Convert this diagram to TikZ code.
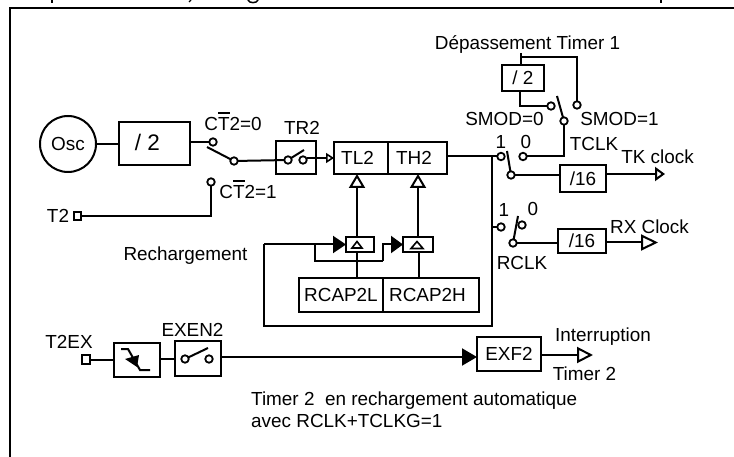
\documentclass[tikz,border=0pt]{standalone}
\usepackage{fontspec}
\setmainfont{Liberation Sans}
\usetikzlibrary{arrows.meta}
\newcommand\barT{\makebox[0pt][l]{\smash{\rule[17pt]{11.5pt}{1.8pt}}}T}
\tikzset{
  wire/.style={line width=2pt},
  openarrow/.style={wire,-{Triangle[open,length=#1,width=16pt,line width=2pt]}},
  smallopen/.style={wire,-{Triangle[open,length=8pt,width=10pt,line width=1.6pt]}},
  uparrow/.style={wire,-{Triangle[open,length=14pt,width=16pt,line width=2pt]}},
  blackarrow/.style={wire,-{Triangle[length=#1,width=17pt]}},
  txt/.style={font=\fontsize{18.9}{22}\selectfont},
  lbl/.style={txt,inner sep=0pt,text height=13.5pt,text depth=0pt},
  box/.style={lbl,draw,line width=2pt,rectangle,outer sep=0pt},
  contact/.style={draw,circle,line width=1.8pt,inner sep=0pt,minimum size=7.5pt,outer sep=0pt},
  pad/.style={draw,rectangle,line width=1.8pt,inner sep=0pt,minimum size=7.5pt,outer sep=0pt},
}
\begin{document}
\begin{tikzpicture}[x=1pt,y=-1pt]
\useasboundingbox (0,0) rectangle (734,457);
% frame
\draw[line width=2.4pt] (10,457) -- (10,8) -- (734,8);
% clipped line of text above the frame
\draw[line width=1.5pt] (52,0) -- (52,3);
\draw[line width=1.5pt] (661,0) -- (661,3);
\draw[line width=1.3pt] (191,0) -- (189,2);
\draw[line width=1.5pt] (248,0) .. controls (249,3.5) and (257,3.5) .. (258,0);

% oscillator and divider
\node[draw,circle,line width=2pt,lbl,minimum size=56pt] (osc) at (68,144) {Osc};
\node[box,minimum width=71pt,minimum height=43pt,font=\fontsize{22.5}{26}\selectfont] (div) at (154.5,144) {/ 2\hspace*{14pt}};
\draw[wire] (osc) -- (osc -| div.west);

% C/T switch
\node[contact] (ct0) at (213,142) {};
\node[contact] (ct1) at (211,182) {};
\node[contact] (ctc) at (234,161) {};
\coordinate (ctarm) at (207,147);
\draw[wire] (div.east |- ct0) -- (ct0);
\draw[wire] (ctarm) -- (ctc);
\node[lbl] (lct0) at (233,124) {C\barT2=0};
\node[lbl] (lct1) at (248,192) {C\barT2=1};
\node[lbl] (lt2) at (58,216) {T2};
\node[pad] (t2) at (77.5,216) {};
\coordinate (t2c) at (211,216);
\draw[wire] (t2) -- (t2c) -- (ct1);

% TR2
\node[box,minimum width=40pt,minimum height=33pt] (tr2) at (296,157.5) {};
\node[lbl] (ltr2) at (302,128) {TR2};
\node[contact] (tra) at (288,160) {};
\node[contact] (trb) at (303,160) {};
\coordinate (trarm) at (304,150);
\draw[wire] (ctc) -- (tra);
\draw[wire] (tra) -- (trarm);

% timer registers
\node[box,minimum width=54pt,minimum height=32pt] (tl2) at (361,158) {TL2\hspace*{7pt}};
\node[box,minimum width=59pt,minimum height=32pt] (th2) at (417.5,158) {TH2\hspace*{7pt}};
\draw[smallopen] (trb.east |- tl2.west) -- (tl2.west);

% reload gates
\node[box,minimum width=28pt,minimum height=15pt] (g1) at (360,244.5) {};
\node[box,minimum width=30pt,minimum height=15pt] (g2) at (418,244.5) {};
\draw[line width=1.6pt] (352,248) -- (362,248) -- (357,241.5) -- cycle;
\draw[line width=1.6pt] (411,248.5) -- (423,248.5) -- (417,241.5) -- cycle;
\node[box,minimum width=84pt,minimum height=34pt] (rl) at (341,295) {RCAP2L};
\node[box,minimum width=96pt,minimum height=34pt] (rh) at (431,295) {RCAP2H\hspace*{7pt}};
\coordinate (g1t) at (357,237);
\coordinate (g2t) at (418,237);
\coordinate (tl2b) at (357,174);
\coordinate (th2b) at (418,174);
\coordinate (g1b) at (357,252);
\coordinate (g2b) at (419,252);
\coordinate (rlt) at (357,278);
\coordinate (rht) at (419,278);
\draw[uparrow] (g1t) -- (tl2b);
\draw[uparrow] (g2t) -- (th2b);
\draw[wire] (g1b) -- (rlt);
\draw[wire] (g2b) -- (rht);
\node[lbl] (lrech) at (185.5,254) {Rechargement};

% reload line
\node[contact] (s1) at (501,156.5) {};
\coordinate (j) at (492,156.5);
\coordinate (rb) at (264,326);
\coordinate (rc) at (264,244.5);
\coordinate (l1) at (315,244.5);
\coordinate (l2) at (383,261);
\draw[wire] (th2.east |- s1) -- (s1);
\draw[wire] (j) |- (rb) -- (rc);
\draw[blackarrow=13pt] (rc) -- (g1.west);
\draw[wire] (l1) |- (l2);
\draw[blackarrow=12pt] (l2) |- (g2.west);

% Timer 1 overflow / SMOD
\node[lbl] (ldep) at (527.5,43) {Dépassement Timer 1};
\node[box,minimum width=42pt,minimum height=26pt] (d2) at (523,78) {/ 2};
\coordinate (dt) at (521,53);
\coordinate (dtb) at (521,65);
\coordinate (dj) at (521,57);
\coordinate (db) at (520,91);
\node[contact] (sm0) at (551,106) {};
\node[contact] (sm1) at (577,105) {};
\node[contact] (smc) at (564,121) {};
\coordinate (smarm) at (557,96);
\draw[wire] (dt) -- (dtb);
\draw[wire] (dj) -| (sm1);
\draw[wire] (db) |- (sm0);
\draw[wire] (smarm) -- (smc);
\node[lbl] (lsm0) at (504.5,119) {SMOD=0};
\node[lbl] (lsm1) at (619.5,119) {SMOD=1};

% TCLK switch
\node[contact] (s0) at (523,156.5) {};
\node[contact] (sc) at (511,175) {};
\coordinate (sarm) at (507,151);
\draw[wire] (smc) |- (s0);
\draw[wire] (sarm) -- (sc);
\node[lbl] (l1a) at (501,142) {1};
\node[lbl] (l0a) at (526,142) {0};
\node[lbl] (ltclk) at (594,144) {TCLK};
\node[box,minimum width=46pt,minimum height=27pt] (d16a) at (583,178.5) {/16};
\coordinate (tkt) at (665,174);
\draw[wire] (sc) -- (sc -| d16a.west);
\draw[wire,-{Triangle[open,length=10pt,width=14pt,line width=2pt]}] (d16a.east |- tkt) -- (tkt);
\node[lbl] (ltk) at (657.5,157) {TK clock};

% RCLK switch
\node[contact] (r1) at (501,227) {};
\node[contact] (r0) at (522,225) {};
\node[contact] (rc2) at (513,243) {};
\coordinate (rarm) at (518,216);
\draw[wire] (j |- r1) -- (r1);
\draw[wire] (rarm) -- (rc2);
\node[lbl] (l1b) at (504,210) {1};
\node[lbl] (l0b) at (533,209) {0};
\node[lbl] (lrclk) at (522,263) {RCLK};
\node[box,minimum width=48pt,minimum height=24pt] (d16b) at (582,241) {/16};
\coordinate (rxt) at (658,242.5);
\draw[wire] (rc2) -- (rc2 -| d16b.west);
\draw[openarrow=17pt] (d16b.east |- rxt) -- (rxt);
\node[lbl] (lrx) at (649.5,227) {RX Clock};

% external trigger
\node[lbl] (lt2ex) at (69,342) {T2EX};
\node[pad,minimum size=8.5pt] (tex) at (86,359.5) {};
\node[box,minimum width=46pt,minimum height=34pt] (edge) at (137,360) {};
\draw[line width=2pt] (121,349) -- (128,349) -- (140,370) -- (150,370);
\fill (125,359) -- (139,355) -- (137,367) -- cycle;
\node[box,minimum width=46pt,minimum height=35pt] (ex) at (198,358.5) {};
\node[lbl] (lex) at (192.5,330) {EXEN2};
\node[contact] (exa) at (185,359) {};
\node[contact] (exb) at (209,359) {};
\coordinate (exarm) at (208,348);
\draw[wire] (exa) -- (exarm);
\draw[wire] (tex) -- (edge.west |- tex);
\draw[wire] (edge.east |- ex) -- (ex.west);
\node[box,minimum width=64pt,minimum height=34pt] (exf) at (509,354) {EXF2};
\coordinate (exfin) at (477,357);
\draw[blackarrow=15pt] (ex.east |- exfin) -- (exfin);
\coordinate (intt) at (593,355);
\draw[openarrow=16pt] (exf.east |- intt) -- (intt);
\node[lbl] (lint) at (603,335) {Interruption};
\node[lbl] (ltm) at (584.5,374) {Timer 2};

% caption
\node[txt,inner sep=0pt,align=left,anchor=north west] (cap) at (251,392) {Timer 2\ \ en rechargement automatique\\avec RCLK+TCLKG=1};
\end{tikzpicture}
\end{document}
